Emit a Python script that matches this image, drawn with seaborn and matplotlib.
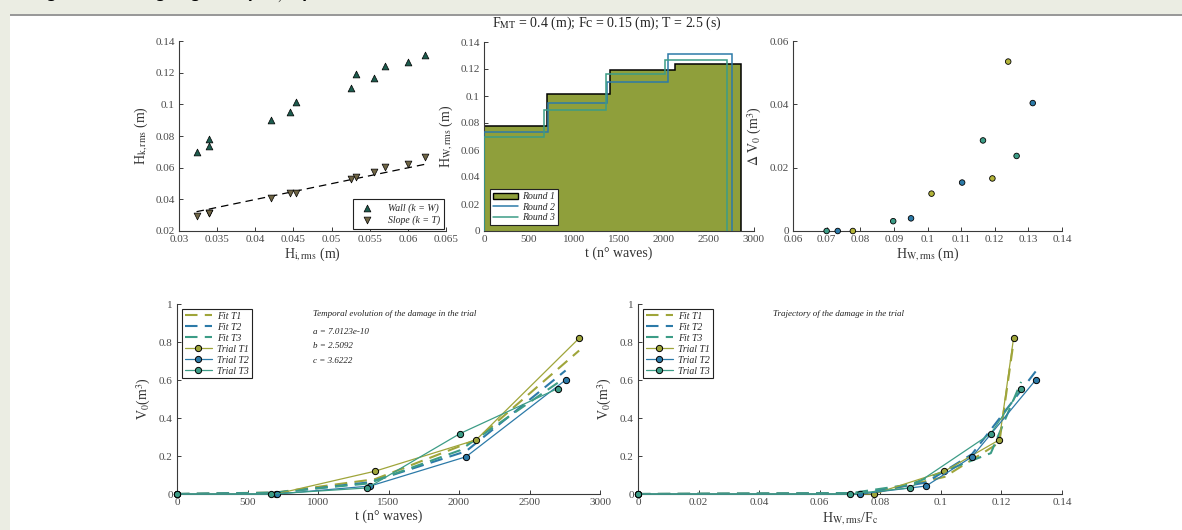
import numpy as np
import pandas as pd
import matplotlib.pyplot as plt
import seaborn as sns
from matplotlib.patches import Rectangle, Patch
from matplotlib.lines import Line2D
from matplotlib.ticker import FuncFormatter, MultipleLocator


# --- data ---
# incident vs reflected wave heights
h_inc = [0.0323, 0.0339, 0.0339, 0.0420, 0.0445, 0.0453, 0.0525, 0.0532, 0.0555, 0.0570, 0.0600, 0.0623]
h_wall = [0.0700, 0.0778, 0.0734, 0.0898, 0.0951, 0.1012, 0.1103, 0.1193, 0.1165, 0.1240, 0.1265, 0.1313]
h_slope = [0.0295, 0.0316, 0.0312, 0.0409, 0.0437, 0.0441, 0.0529, 0.0542, 0.0573, 0.0607, 0.0626, 0.0666]
slope_fit_x = [0.0323, 0.0623]
slope_fit_y = [0.0322, 0.0622]

# wave height per stage for each round
round1_edges = [0, 704, 1404, 2122, 2852]
round1_h = [0.0778, 0.1012, 0.1193, 0.1240]
round2_edges = [0, 711, 1370, 2050, 2756]
round2_h = [0.0733, 0.0951, 0.1103, 0.1313]
round3_edges = [0, 670, 1350, 2007, 2700]
round3_h = [0.0700, 0.0898, 0.1165, 0.1265]

# incremental damage
dv_h = [0.0700, 0.0733, 0.0778, 0.0898, 0.0951, 0.1012, 0.1103, 0.1165, 0.1193, 0.1240, 0.1265, 0.1313]
dv_val = [0.0, 0.0, 0.0, 0.0031, 0.0040, 0.0118, 0.0153, 0.0286, 0.0166, 0.0535, 0.0237, 0.0404]
dv_round = ['R3', 'R2', 'R1', 'R3', 'R2', 'R1', 'R2', 'R3', 'R1', 'R1', 'R3', 'R2']

# cumulative damage per trial
t1 = [0, 704, 1404, 2122, 2852]
t2 = [0, 711, 1370, 2050, 2756]
t3 = [0, 670, 1350, 2007, 2700]
hw1 = [0, 0.0778, 0.1012, 0.1193, 0.1240]
hw2 = [0, 0.0733, 0.0951, 0.1103, 0.1313]
hw3 = [0, 0.0700, 0.0898, 0.1165, 0.1265]
v1 = [0, 0, 0.120, 0.285, 0.820]
v2 = [0, 0, 0.042, 0.196, 0.600]
v3 = [0, 0, 0.032, 0.318, 0.555]
fit_t1 = [0, 0.008, 0.078, 0.285, 0.755]
fit_t2 = [0, 0.007, 0.062, 0.225, 0.650]
fit_t3 = [0, 0.006, 0.055, 0.230, 0.585]
fit_h1 = [0, 0.005, 0.090, 0.270, 0.800]
fit_h2 = [0, 0.004, 0.060, 0.210, 0.645]
fit_h3 = [0, 0.004, 0.050, 0.215, 0.590]

c1 = '#9fa53a'
c1_fill = '#8f9f3b'
c2 = '#2c7aa8'
c3 = '#3c9c86'

sns.set_theme(style='white')
plt.rcParams['font.family'] = ['Liberation Serif', 'DejaVu Serif']
plt.rcParams['mathtext.fontset'] = 'stix'

W, H = 1182, 530
fig = plt.figure(figsize=(W / 100, H / 100), dpi=100)
fig.patch.set_facecolor('white')

# frame around the figure (page background)
fig.patches.append(Rectangle((0, 1 - 14 / H), 1, 14 / H, transform=fig.transFigure,
                             facecolor='#ebede3', edgecolor='none', zorder=0))
fig.patches.append(Rectangle((0, 0), 10 / W, 1, transform=fig.transFigure,
                             facecolor='#ebede3', edgecolor='none', zorder=0))
fig.patches.append(Rectangle((10 / W, 1 - 16 / H), 1, 2 / H, transform=fig.transFigure,
                             facecolor='#999999', edgecolor='none', zorder=0))
# caption of the page, only its lower edge shows at the top
fig.text(30 / W, 1 + 2 / H, r'Figure 9. Damage against ($\mathbf{H_{W,rms}}$)',
         fontsize=12.5, fontweight='bold', family=['Liberation Sans', 'DejaVu Sans'],
         va='baseline', ha='left', color='black')


def px_axes(l, r, t, b):
    return fig.add_axes([l / W, 1 - b / H, (r - l) / W, (b - t) / H])


fmt = FuncFormatter(lambda v, p: f'{v:.4g}' if abs(v) > 1e-12 else '0')
spine_col = '#3a3a3a'
tick_col = '#4a4a4a'


def style(ax):
    for s in ['top', 'right']:
        ax.spines[s].set_visible(False)
    for s in ['left', 'bottom']:
        ax.spines[s].set_color(spine_col)
        ax.spines[s].set_linewidth(0.8)
    ax.tick_params(direction='in', length=3, width=0.7, colors=spine_col,
                   labelsize=8, labelcolor=tick_col, pad=3,
                   bottom=True, left=True)
    ax.xaxis.set_major_formatter(fmt)
    ax.yaxis.set_major_formatter(fmt)
    ax.set_facecolor('white')


lab_kw = dict(fontsize=10, color='#333333')

# --- ax1: H_k,rms vs H_i,rms ---
ax1 = px_axes(179, 446, 41, 231)
sns.scatterplot(x=h_inc, y=h_wall, ax=ax1, marker='^', s=24, color='#1d5c4e',
                edgecolor='black', linewidth=0.5, label='Wall (k = W)', zorder=3)
sns.scatterplot(x=h_inc, y=h_slope, ax=ax1, marker='v', s=24, color='#6f6545',
                edgecolor='black', linewidth=0.5, label='Slope (k = T)', zorder=3)
sns.lineplot(x=slope_fit_x, y=slope_fit_y, ax=ax1, color='black', linewidth=0.9,
             dashes=(6, 4), legend=False, zorder=2)
ax1.set_xlim(0.03, 0.065)
ax1.set_ylim(0.02, 0.14)
ax1.xaxis.set_major_locator(MultipleLocator(0.005))
ax1.yaxis.set_major_locator(MultipleLocator(0.02))
style(ax1)
ax1.set_xlabel(r'H$_{\mathrm{i,rms}}$ (m)', labelpad=1, **lab_kw)
ax1.set_ylabel(r'H$_{\mathrm{k,rms}}$ (m)', labelpad=4, **lab_kw)
leg = ax1.legend(loc='lower right', prop={'style': 'italic', 'size': 7},
                 frameon=True, fancybox=False, edgecolor='#222222', framealpha=1,
                 borderpad=0.4, handletextpad=1.2, borderaxespad=0.2, labelspacing=0.3)
leg.get_frame().set_linewidth(0.8)

# --- ax2: stairs of H_W,rms per round ---
ax2 = px_axes(484, 754, 42, 231)
ax2.stairs(round1_h, round1_edges, baseline=0, fill=True, facecolor=c1_fill,
           edgecolor='none', zorder=1)
ax2.stairs(round1_h, round1_edges, baseline=0, fill=False, color='black',
           linewidth=1.1, zorder=2)
ax2.stairs(round2_h, round2_edges, baseline=0, fill=False, color=c2,
           linewidth=1.1, zorder=3)
ax2.stairs(round3_h, round3_edges, baseline=0, fill=False, color=c3,
           linewidth=1.1, zorder=3)
ax2.set_xlim(0, 3000)
ax2.set_ylim(0, 0.14)
ax2.xaxis.set_major_locator(MultipleLocator(500))
ax2.yaxis.set_major_locator(MultipleLocator(0.02))
style(ax2)
ax2.set_xlabel('t (n° waves)', labelpad=2, **lab_kw)
ax2.set_ylabel(r'H$_{\mathrm{W,rms}}$ (m)', labelpad=4, **lab_kw)
handles2 = [Patch(facecolor=c1_fill, edgecolor='black', linewidth=1.0),
            Line2D([], [], color=c2, lw=1.1), Line2D([], [], color=c3, lw=1.1)]
leg2 = ax2.legend(handles2, ['Round 1', 'Round 2', 'Round 3'], loc='lower left',
                  prop={'style': 'italic', 'size': 7}, frameon=True, fancybox=False,
                  edgecolor='#222222', framealpha=1, borderpad=0.3, handlelength=2.6,
                  handletextpad=0.4, borderaxespad=0.6, labelspacing=0.15)
leg2.get_frame().set_linewidth(0.8)
fig.text(607 / W, 1 - 23 / H, r'F$_{\mathrm{MT}}$ = 0.4 (m); Fc = 0.15 (m); T = 2.5 (s)',
         ha='center', va='center', fontsize=10, color='#222222')

# --- ax3: incremental damage ---
ax3 = px_axes(793, 1062, 41, 231)
dv_df = pd.DataFrame({'h': dv_h, 'dv': dv_val, 'round': dv_round})
sns.scatterplot(data=dv_df, x='h', y='dv', hue='round', ax=ax3, s=16,
                palette={'R1': '#b3b43a', 'R2': c2, 'R3': c3},
                edgecolor='black', linewidth=0.6, legend=False, zorder=3, clip_on=False)
ax3.set_xlim(0.06, 0.14)
ax3.set_ylim(0, 0.06)
ax3.xaxis.set_major_locator(MultipleLocator(0.01))
ax3.yaxis.set_major_locator(MultipleLocator(0.02))
style(ax3)
ax3.set_xlabel(r'H$_{\mathrm{W,rms}}$ (m)', labelpad=1, **lab_kw)
ax3.set_ylabel(r'$\Delta$ V$_0$ (m$^3$)', labelpad=4, **lab_kw)


# --- bottom panels: cumulative damage ---
def damage_panel(ax, xs, fits):
    cols = [c1, c2, c3]
    for i, (x, f) in enumerate(zip(xs, fits)):
        sns.lineplot(x=x, y=f, ax=ax, color=cols[i], linewidth=1.5, dashes=(6, 3.5),
                     sort=False, estimator=None, label=f'Fit T{i + 1}', zorder=2)
    for i, (x, v) in enumerate(zip(xs, [v1, v2, v3])):
        sns.lineplot(x=x, y=v, ax=ax, color=cols[i], linewidth=0.9, sort=False,
                     estimator=None, marker='o', markersize=4.5,
                     markeredgecolor='black', markeredgewidth=0.7,
                     label=f'Trial T{i + 1}', zorder=3, clip_on=False)
    ax.set_ylim(0, 1)
    ax.yaxis.set_major_locator(MultipleLocator(0.2))
    style(ax)
    ax.set_ylabel(r'V$_0$(m$^3$)', labelpad=4, **lab_kw)
    lg = ax.legend(loc='upper left', prop={'style': 'italic', 'size': 7}, frameon=True,
                   fancybox=False, edgecolor='#222222', framealpha=1, borderpad=0.3,
                   handlelength=2.8, handletextpad=0.5, borderaxespad=0.5,
                   labelspacing=0.2)
    lg.get_frame().set_linewidth(0.8)


ax4 = px_axes(177, 600, 304, 494)
damage_panel(ax4, [t1, t2, t3], [fit_t1, fit_t2, fit_t3])
ax4.set_xlim(0, 3000)
ax4.xaxis.set_major_locator(MultipleLocator(500))
ax4.set_xlabel('t (n° waves)', labelpad=2, **lab_kw)
ann_kw = dict(fontsize=6.5, style='italic', color='#222222', ha='left', va='center')
ax4.text(965, 0.947, 'Temporal evolution of the damage in the trial', **ann_kw)
ax4.text(965, 0.853, 'a = 7.0123e-10', **ann_kw)
ax4.text(965, 0.779, 'b = 2.5092', **ann_kw)
ax4.text(965, 0.700, 'c = 3.6222', **ann_kw)

ax5 = px_axes(638, 1062, 304, 494)
damage_panel(ax5, [hw1, hw2, hw3], [fit_h1, fit_h2, fit_h3])
ax5.set_xlim(0, 0.14)
ax5.xaxis.set_major_locator(MultipleLocator(0.02))
ax5.set_xlabel(r'H$_{\mathrm{W,rms}}$/F$_{\mathrm{c}}$', labelpad=2, **lab_kw)
ax5.text(0.0446, 0.947, 'Trajectory of the damage in the trial', **ann_kw)

fig.savefig('out.png', dpi=100, facecolor='white')
